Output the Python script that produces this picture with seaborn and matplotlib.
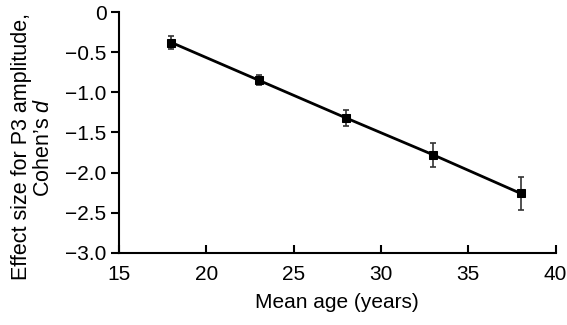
import matplotlib
matplotlib.use("Agg")
import matplotlib.pyplot as plt
import seaborn as sns
import pandas as pd
from matplotlib.ticker import FuncFormatter

# Data
mean_age = [18, 23, 28, 33, 38]
effect_size = [-0.38, -0.85, -1.32, -1.78, -2.26]
effect_err = [0.08, 0.06, 0.10, 0.15, 0.20]

df = pd.DataFrame({"age": mean_age, "d": effect_size, "err": effect_err})

sns.set_theme(style="ticks", rc={"text.color": "black", "axes.labelcolor": "black",
                                 "xtick.color": "black", "ytick.color": "black",
                                 "axes.edgecolor": "black"})
plt.rcParams["font.family"] = ["Liberation Sans", "DejaVu Sans"]
plt.rcParams["mathtext.fontset"] = "custom"
plt.rcParams["mathtext.it"] = "Liberation Sans:italic"
plt.rcParams["mathtext.rm"] = "Liberation Sans"

fig = plt.figure(figsize=(5.67, 3.25), dpi=100)
ax = fig.add_axes([0.21, 0.222, 0.77, 0.741])

# error bars first, line on top
ax.errorbar(df["age"], df["d"], yerr=df["err"], fmt="none", ecolor="#333333",
            elinewidth=1.2, capsize=2.5, capthick=1.2, zorder=2)
sns.lineplot(data=df, x="age", y="d", ax=ax, color="black", linewidth=2,
             marker="s", markersize=6, markeredgecolor="black", zorder=3)

ax.set_xlim(15, 40)
ax.set_ylim(-3.0, 0)
ax.set_xticks([15, 20, 25, 30, 35, 40])
ax.set_yticks([0, -0.5, -1.0, -1.5, -2.0, -2.5, -3.0])
ax.yaxis.set_major_formatter(FuncFormatter(
    lambda v, p: "0" if abs(v) < 1e-9 else f"{v:.1f}".replace("-", "\u2212")))

ax.tick_params(axis="x", direction="in", length=6, width=1.5, labelsize=15, pad=9)
ax.tick_params(axis="y", direction="out", length=6, width=1.5, labelsize=15, pad=3)
for s in ["left", "bottom"]:
    ax.spines[s].set_linewidth(1.5)
    ax.spines[s].set_color("black")
sns.despine(ax=ax)

ax.set_xlabel("Mean age (years)", fontsize=15, labelpad=6)
ax.set_ylabel("Effect size for P3 amplitude,\nCohen\u2019s $\\mathit{d}$", fontsize=15.5,
              linespacing=1.05)
ax.yaxis.set_label_coords(-0.15, 0.44)

fig.savefig("out.png", dpi=100)
